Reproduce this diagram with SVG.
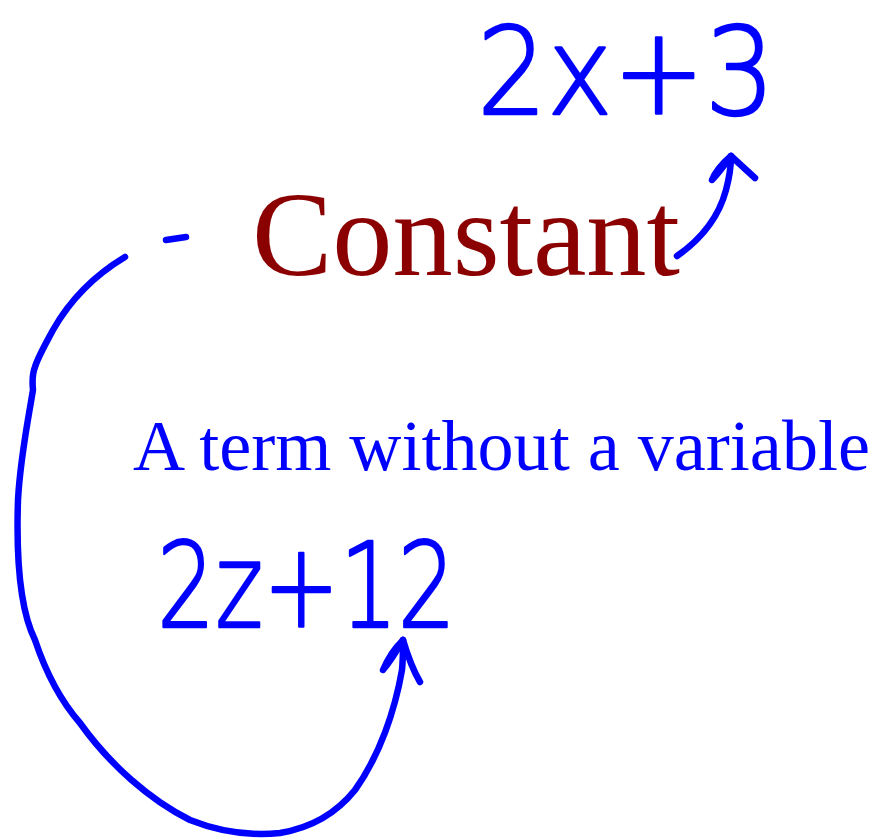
<svg xmlns="http://www.w3.org/2000/svg" width="881" height="840" viewBox="0 0 881 840">
  <style>
    .ink { fill: none; stroke: #0000ff; stroke-width: 6.5; stroke-linecap: round; stroke-linejoin: round; }
    .hand { font-family: "DejaVu Sans", sans-serif; font-weight: 200; fill: #0000ff; stroke: #0000ff; stroke-width: 2.5; stroke-linejoin: round; }
    .serif { font-family: "Liberation Serif", "DejaVu Serif", serif; }
  </style>
  <rect width="881" height="840" fill="#ffffff"/>

  <g id="expr-top">
    <text class="hand" x="477" y="114" font-size="122" textLength="298" lengthAdjust="spacingAndGlyphs">2x+3</text>
  </g>

  <g id="title">
    <text class="serif" x="252" y="275" font-size="121" fill="#8b0000" textLength="428" lengthAdjust="spacingAndGlyphs">Constant</text>
  </g>

  <g id="dash">
    <path class="ink" d="M166 240 L186 237"/>
  </g>

  <g id="definition">
    <text class="serif" x="133" y="470" font-size="71.5" fill="#0000ff" textLength="737" lengthAdjust="spacingAndGlyphs">A term without a variable</text>
  </g>

  <g id="expr-bottom">
    <text class="hand" x="157" y="627" font-size="117" textLength="299" lengthAdjust="spacingAndGlyphs">2z+12</text>
  </g>

  <g id="connectors">
    <path class="ink" d="M677 256 C700 240 718 220 726 190 C730 175 731 165 731 156"/>
    <path class="ink" d="M731 156 C724 162 716 170 712 180 C716 176 724 166 731 156 L755 178"/>
    <path class="ink" d="M125 257 C95 275 70 300 53 330 C45 345 38 357 35 367 C33 372 32 380 33 390 C28 420 20 460 18 500 C16 560 20 610 35 640 C45 670 60 700 80 723 C110 765 150 800 190 820 C220 832 250 836 280 833 C310 828 335 815 355 790 C380 755 395 710 402 670 C403 660 403 650 403 640"/>
    <path class="ink" d="M403 640 C396 647 388 658 383 670 C388 664 396 652 403 640 C408 657 413 670 420 682"/>
  </g>
</svg>
